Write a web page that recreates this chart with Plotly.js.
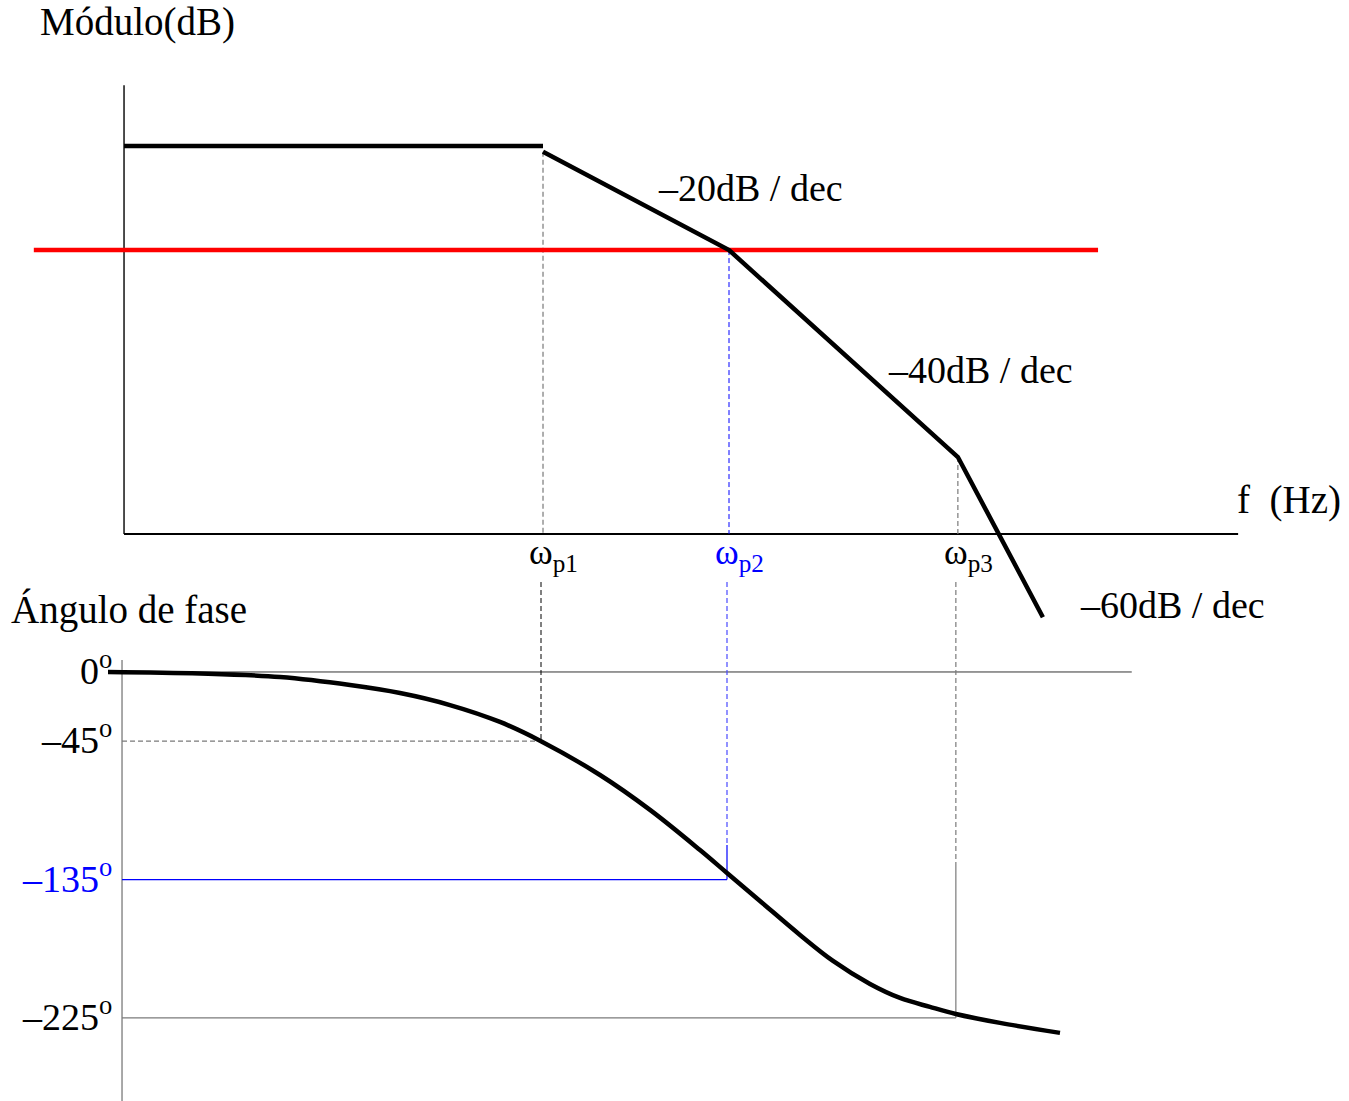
<!DOCTYPE html>
<html>
<head>
<meta charset="utf-8">
<script src="https://cdn.plot.ly/plotly-3.0.1.min.js"></script>
<style>
  html, body { margin: 0; padding: 0; background: #ffffff; }
  #bode { width: 1349px; height: 1101px; }
</style>
</head>
<body>
<div id="bode"></div>
<script>
// Asymptotic Bode sketch of a three-pole amplifier (magnitude + phase).

// Pole frequencies (Hz) and their labels
const poleFreqs = [1e3, 1e4, 1.7e5];
const poleLabels = ['ω<sub>p1</sub>', 'ω<sub>p2</sub>', 'ω<sub>p3</sub>'];
const poleColors = ['#000000', '#0000ff', '#000000'];

// Frequency span of the drawn axes (Hz)
const fAxisStart = 5.59;
const fAxisEnd = 5.46e6;
const fPhaseAxisEnd = 1.5e6;

// Magnitude asymptotes (dB)
const flatFreq = [fAxisStart, 1e3];
const flatDb = [74.6, 74.6];
const slopeFreq = [1e3, 1e4, 1.7e5, 4.87e5];
const slopeDb = [73.5, 54.6, 14.8, -16.0];
const magAxisTopDb = 86.3;

// Reference gain level (red line)
const refFreq = [1.83, 9.64e5];
const refDb = 54.6;

// Slope labels
const slopeLabels = ['–20dB / dec', '–40dB / dec', '–60dB / dec'];

// Phase curve (degrees)
const phaseFreq = [4.70, 14.7, 39.5, 94.0, 174.6, 324, 602, 1000, 2076, 3855, 7158,
                   10000, 15040, 24690, 37150, 58730, 85120, 123400, 1.7e5, 293600, 617100];
const phaseDeg = [0, -1.0, -3.3, -8.5, -13.7, -21.5, -32.5, -45, -67.0, -89.7, -115.8,
                  -130.7, -148.9, -171.0, -187.9, -202.9, -212.0, -217.8, -222.4, -228.2, -234.7];

// Phase reference levels and their labels
const phaseTicks = [0, -45, -135, -225];
const phaseTickLabels = ['0<sup>o</sup>', '–45<sup>o</sup>', '–135<sup>o</sup>', '–225<sup>o</sup>'];
const phaseTickColors = ['#000000', '#000000', '#0000ff', '#000000'];
const phaseAxisTop = 7.8;
const phaseAxisBottom = -279;
const phaseGuideTop = 58.5;
const p2SolidFrom = -112.5;
const p3SolidFrom = -123.5;

const W = 1349, H = 1101;
const FONT = 'Liberation Serif, Times New Roman, serif';
const GRAY = '#7a7a7a';
const SHORT_DASH = '5px,3px';

function seg(xs, ys, color, width, dash, axes) {
  return {
    type: 'scatter', mode: 'lines', x: xs, y: ys,
    xaxis: axes === 2 ? 'x2' : 'x', yaxis: axes === 2 ? 'y2' : 'y',
    line: { color: color, width: width, dash: dash || 'solid' },
    hoverinfo: 'skip', showlegend: false
  };
}

const traces = [];

// ---- Magnitude panel ----
traces.push(seg([fAxisStart, fAxisStart], [0, magAxisTopDb], '#000', 1.4));
traces.push(seg([fAxisStart, fAxisEnd], [0, 0], '#000', 1.8));
traces.push(seg([poleFreqs[0], poleFreqs[0]], [slopeDb[0], 0], GRAY, 1.2, SHORT_DASH));
traces.push(seg([poleFreqs[1], poleFreqs[1]], [slopeDb[1], 0], '#0000ff', 1, SHORT_DASH));
traces.push(seg([poleFreqs[2], poleFreqs[2]], [slopeDb[2], 0], GRAY, 1.2, SHORT_DASH));
traces.push(seg(refFreq, [refDb, refDb], '#ff0000', 4.5));
traces.push(seg(flatFreq, flatDb, '#000', 4.5));
traces.push(seg(slopeFreq, slopeDb, '#000', 4.5));

// ---- Phase panel ----
traces.push(seg([fAxisStart, fAxisStart], [phaseAxisTop, phaseAxisBottom], GRAY, 1.3, null, 2));
traces.push(seg([fAxisStart, fPhaseAxisEnd], [0, 0], '#333', 1, null, 2));
traces.push(seg([fAxisStart, poleFreqs[0]], [-45, -45], GRAY, 1.3, SHORT_DASH, 2));
traces.push(seg([poleFreqs[0], poleFreqs[0]], [phaseGuideTop, -45], '#000', 1, SHORT_DASH, 2));
traces.push(seg([fAxisStart, poleFreqs[1]], [-135, -135], '#0000ff', 1.2, null, 2));
traces.push(seg([poleFreqs[1], poleFreqs[1]], [phaseGuideTop, p2SolidFrom], '#4a4aff', 1.2, SHORT_DASH, 2));
traces.push(seg([poleFreqs[1], poleFreqs[1]], [p2SolidFrom, -135], '#0000ff', 1.2, null, 2));
traces.push(seg([poleFreqs[2], poleFreqs[2]], [phaseGuideTop, p3SolidFrom], GRAY, 1.2, SHORT_DASH, 2));
traces.push(seg([poleFreqs[2], poleFreqs[2]], [p3SolidFrom, -225], GRAY, 1.2, null, 2));
traces.push(seg([fAxisStart, poleFreqs[2]], [-225, -225], GRAY, 1.3, null, 2));
traces.push({
  type: 'scatter', mode: 'lines', x: phaseFreq, y: phaseDeg, xaxis: 'x2', yaxis: 'y2',
  line: { color: '#000', width: 4.5, shape: 'spline', smoothing: 1 },
  hoverinfo: 'skip', showlegend: false
});

// ---- Text ----
const px = v => v / W;
const py = v => 1 - v / H;
function note(text, x, y, opts) {
  return Object.assign({
    text: text, x: x, y: y, xref: 'paper', yref: 'paper',
    xanchor: 'left', yanchor: 'middle', showarrow: false,
    font: { family: FONT, size: 39, color: '#000' }
  }, opts || {});
}

const annotations = [
  note('Módulo(dB)', px(38), py(22)),
  note(slopeLabels[0], px(656), py(188), { font: { family: FONT, size: 38, color: '#000' } }),
  note(slopeLabels[1], px(886), py(370), { font: { family: FONT, size: 38, color: '#000' } }),
  note(slopeLabels[2], px(1078), py(605), { font: { family: FONT, size: 38, color: '#000' } }),
  note('f  (Hz)', px(1235), py(500)),
  note('Ángulo de fase', px(9), py(610))
];

poleFreqs.forEach((f, i) => {
  annotations.push({
    text: poleLabels[i], x: Math.log10(f), y: py(554), xref: 'x', yref: 'paper',
    xanchor: 'left', yanchor: 'middle', xshift: -16, showarrow: false,
    font: { family: FONT, size: 36, color: poleColors[i] }
  });
});

phaseTicks.forEach((d, i) => {
  annotations.push({
    text: phaseTickLabels[i], x: px(114), y: d, xref: 'paper', yref: 'y2',
    xanchor: 'right', yanchor: 'middle', yshift: 4, showarrow: false,
    font: { family: FONT, size: 38, color: phaseTickColors[i] }
  });
});

// Pixel-aligned ranges: 186 px per decade, 5.2 px per dB, 1.5378 px per degree
const layout = {
  width: W, height: H,
  margin: { l: 0, r: 0, t: 0, b: 0, pad: 0 },
  paper_bgcolor: '#ffffff', plot_bgcolor: '#ffffff',
  showlegend: false,
  xaxis: { type: 'log', range: [0.0806, 7.3333], visible: false, fixedrange: true },
  xaxis2: { type: 'log', range: [0.0914, 7.3441], visible: false, overlaying: 'x', fixedrange: true },
  yaxis: { range: [-109.04, 102.69], visible: false, fixedrange: true },
  yaxis2: { range: [-279.0, 437.0], visible: false, overlaying: 'y', fixedrange: true },
  annotations: annotations
};

Plotly.newPlot('bode', traces, layout, { displayModeBar: false, staticPlot: true });
</script>
</body>
</html>
